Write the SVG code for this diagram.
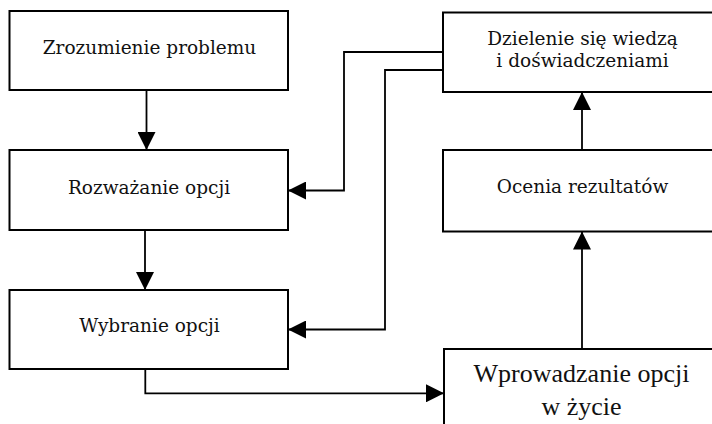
<svg xmlns="http://www.w3.org/2000/svg" width="712" height="424" viewBox="0 0 712 424">
<defs>
<style>
.box{fill:#fff;stroke:#000;stroke-width:2}
.t{font-family:"DejaVu Serif","Liberation Serif",serif;font-size:18.5px;fill:#111;text-anchor:middle}
.tt{font-family:"Liberation Serif","Times New Roman",serif;font-size:26px;fill:#111;text-anchor:middle}
.c{fill:none;stroke:#000;stroke-width:1.8}
</style>
<marker id="ah" viewBox="0 0 18 18" refX="18" refY="9" markerWidth="18" markerHeight="18" markerUnits="userSpaceOnUse" orient="auto">
<path d="M0,0 L18,9 L0,18 Z" fill="#000"/>
</marker>
</defs>
<rect width="712" height="424" fill="#fff"/>
<g id="n1"><rect class="box" x="9.5" y="11" width="278.5" height="79"/><text class="t" x="149.5" y="54">Zrozumienie problemu</text></g>
<g id="n2"><rect class="box" x="9.5" y="150" width="278.5" height="80"/><text class="t" x="149" y="194">Rozważanie opcji</text></g>
<g id="n3"><rect class="box" x="9.5" y="290" width="278.5" height="79"/><text class="t" x="149.5" y="332">Wybranie opcji</text></g>
<g id="n4"><rect class="box" x="443" y="12.5" width="280" height="79.5"/><text class="t" x="582.5" y="45">Dzielenie się wiedzą</text><text class="t" x="582.5" y="66.5">i doświadczeniami</text></g>
<g id="n5"><rect class="box" x="443" y="150" width="280" height="81.5"/><text class="t" x="582.5" y="193">Ocenia rezultatów</text></g>
<g id="n6"><rect class="box" x="444" y="349" width="280" height="90"/><text class="tt" x="581.5" y="382">Wprowadzanie opcji</text><text class="tt" x="581.5" y="415">w życie</text></g>
<g id="connectors">
<line class="c" x1="146.5" y1="90" x2="146.5" y2="150" marker-end="url(#ah)"/>
<line class="c" x1="145" y1="230" x2="145" y2="290" marker-end="url(#ah)"/>
<polyline class="c" points="443,52 344,52 344,190.5 288,190.5" marker-end="url(#ah)"/>
<polyline class="c" points="443,70 385,70 385,329.5 288,329.5" marker-end="url(#ah)"/>
<polyline class="c" points="145.3,369 145.3,393.3 444,393.3" marker-end="url(#ah)"/>
<line class="c" x1="582" y1="150" x2="582" y2="92" marker-end="url(#ah)"/>
<line class="c" x1="582" y1="349" x2="582" y2="231.5" marker-end="url(#ah)"/>
</g>
</svg>
